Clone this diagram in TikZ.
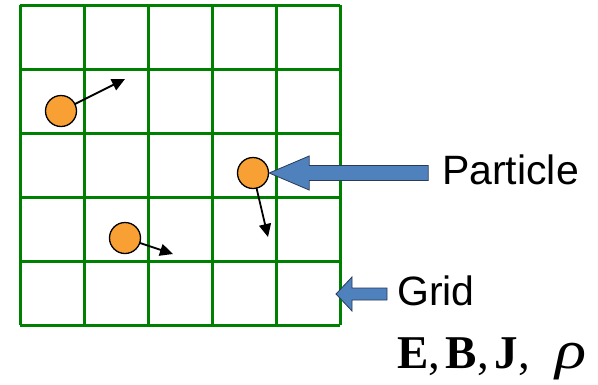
\documentclass[tikz,border=0pt]{standalone}
\usepackage{fontspec}
\setmainfont{Liberation Sans}
\newfontfamily\serifmath{Liberation Serif}
\usetikzlibrary{arrows.meta}
\definecolor{gridgreen}{RGB}{0,128,0}
\definecolor{partorange}{RGB}{248,160,52}
\definecolor{blockblue}{RGB}{79,129,189}
\definecolor{blockedge}{RGB}{40,60,90}
\tikzset{
  gridline/.style={gridgreen, line width=3pt},
  particle/.style={circle, draw=black, line width=1.3pt, fill=partorange, minimum size=31pt, inner sep=0pt},
  velocity/.style={black, line width=1.8pt, -{Triangle[length=13pt,width=12pt]}, shorten <=-1pt},
  blockarrow/.style={fill=blockblue, draw=blockedge, line width=0.8pt, line join=miter},
  label/.style={anchor=base west, inner sep=0pt, font=\fontsize{41}{41}\selectfont}
}
\begin{document}
\begin{tikzpicture}[x=1pt,y=1pt]
\useasboundingbox (0,0) rectangle (598,-384);
% grid
\foreach \i in {0,...,5} {
  \draw[gridline] ({20+64*\i},-5) -- ({20+64*\i},-325);
  \draw[gridline] (20,{-5-64*\i}) -- (340,{-5-64*\i});
}
% particles
\node[particle] (p1) at (61,-111) {};
\node[particle] (p2) at (253,-173) {};
\node[particle] (p3) at (125,-238) {};
\coordinate (v1) at (125,-79);
\coordinate (v2) at (268,-237);
\coordinate (v3) at (173,-254);
\draw[velocity] (p1) -- (v1);
\draw[velocity] (p2) -- (v2);
\draw[velocity] (p3) -- (v3);
% particle block arrow
\coordinate (pa) at (p2.east);
\draw[blockarrow] (pa) -- ++(40,17) -- ++(0,-9.5) -- ++(119,0) -- ++(0,-15) -- ++(-119,0) -- ++(0,-9.5) -- cycle;
\node[label] (ptext) at (442,-184) {Particle};
% grid block arrow
\coordinate (ga) at (336,-294);
\draw[blockarrow] (ga) -- ++(16,17) -- ++(0,-11) -- ++(35,0) -- ++(0,-12) -- ++(-35,0) -- ++(0,-11) -- cycle;
\node[label] (gtext) at (397,-305) {Grid};
% fields
\node[anchor=base west, inner sep=0pt, font=\serifmath\fontsize{47}{47}\selectfont] (fields) at (397,-368)
  {\textbf{E},\hspace{0.12em}\textbf{B},\hspace{0.12em}\textbf{J},\hspace{0.55em}\scalebox{1.2}[1]{\fontsize{54}{54}\selectfont\textit{ρ}}};
\end{tikzpicture}
\end{document}
